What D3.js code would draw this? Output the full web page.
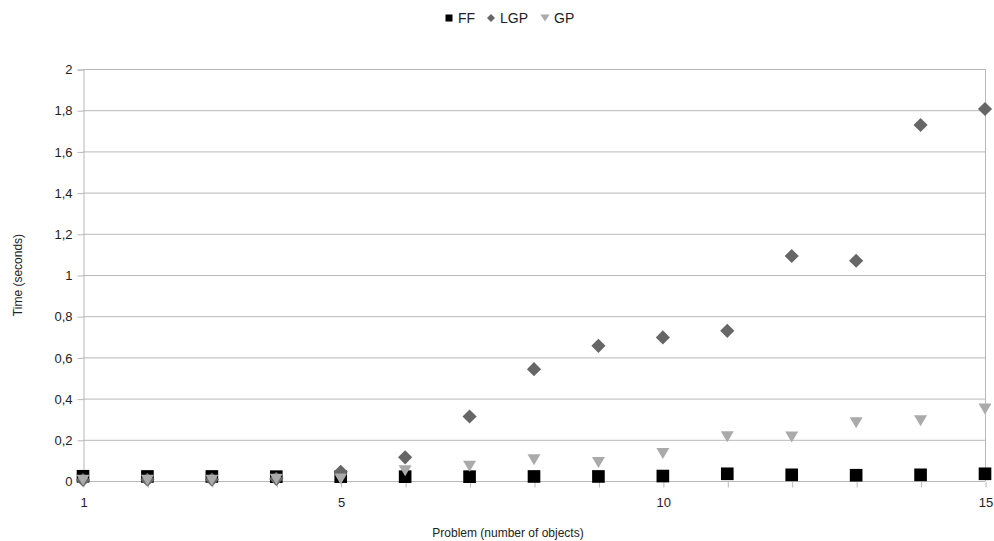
<!DOCTYPE html>
<html><head><meta charset="utf-8">
<script src="https://cdn.jsdelivr.net/npm/d3@7/dist/d3.min.js"></script>
<style>body{margin:0;background:#fff;} text{font-family:"Liberation Sans",Arial,sans-serif;fill:#222;}</style>
</head><body>
<svg id="c" width="994" height="541"></svg>
<script>
const problems = [1,2,3,4,5,6,7,8,9,10,11,12,13,14,15];
const ffValues  = [0.023,0.022,0.022,0.021,0.021,0.021,0.021,0.022,0.022,0.024,0.035,0.030,0.028,0.030,0.035];
const lgpValues = [0.005,0.006,0.007,0.010,0.045,0.115,0.313,0.543,0.656,0.697,0.729,1.092,1.069,1.728,1.806];
const gpValues  = [0.004,0.004,0.004,0.008,0.010,0.050,0.072,0.103,0.090,0.134,0.215,0.213,0.283,0.293,0.350];
const yTicks = [0,0.2,0.4,0.6,0.8,1,1.2,1.4,1.6,1.8,2];
const xLabelTicks = [1,5,10,15];
const seriesNames = ["FF","LGP","GP"];
const seriesColors = ["#000000","#666666","#aaaaaa"];

const svg = d3.select("#c");
const x = d3.scaleLinear().domain([1,15]).range([83,985]);
const y = d3.scaleLinear().domain([0,2]).range([481,69]);
const fmt = v => String(v).replace(".", ",");

// gridlines
svg.append("g").selectAll("line").data(yTicks).join("line")
  .attr("x1",x(1)).attr("x2",x(15)).attr("y1",d=>y(d)+0.5).attr("y2",d=>y(d)+0.5)
  .attr("stroke","#b8b8b8").attr("stroke-width",1);
// right border
svg.append("line").attr("x1",x(15)+0.5).attr("x2",x(15)+0.5).attr("y1",y(2)).attr("y2",y(0))
  .attr("stroke","#b8b8b8");

// y axis
const yAxis = svg.append("g").attr("transform",`translate(${x(1)+0.5},0.5)`)
  .call(d3.axisLeft(y).tickValues(yTicks).tickFormat(fmt).tickSize(6).tickPadding(5));
yAxis.select(".domain").attr("stroke","#b8b8b8");
yAxis.selectAll(".tick line").attr("stroke","#b8b8b8");
yAxis.selectAll("text").attr("font-size",13).style("fill","#222").attr("font-family","Liberation Sans, Arial, sans-serif");

// x axis tick marks at each integer
const xAxis = svg.append("g").attr("transform",`translate(0.5,${y(0)+0.5})`)
  .call(d3.axisBottom(x).tickValues(problems).tickFormat(d => xLabelTicks.includes(d) ? d : "").tickSize(6).tickPadding(10));
xAxis.select(".domain").remove();
xAxis.selectAll(".tick line").attr("stroke","#b8b8b8");
xAxis.selectAll("text").attr("font-size",13).style("fill","#222").attr("font-family","Liberation Sans, Arial, sans-serif");

// axis titles
svg.append("text").attr("x",508).attr("y",537).attr("text-anchor","middle").attr("font-size",12).text("Problem (number of objects)");
svg.append("text").attr("transform","translate(22,275) rotate(-90)").attr("text-anchor","middle").attr("font-size",12).text("Time (seconds)");

// markers
const sq = d3.symbol().type(d3.symbolSquare).size(160);
const tri = "M-6.5,-5.5L6.5,-5.5L0,5.5Z";

svg.append("g").selectAll("path").data(problems).join("path")
  .attr("d", sq).attr("transform",(d,i)=>`translate(${x(d)},${y(ffValues[i])})`).attr("fill",seriesColors[0]);
svg.append("g").selectAll("path").data(problems).join("path")
  .attr("d", d3.symbol().type(d3.symbolSquare).size(100)).attr("transform",(d,i)=>`translate(${x(d)},${y(lgpValues[i])}) rotate(45)`).attr("fill",seriesColors[1]);
svg.append("g").selectAll("path").data(problems).join("path")
  .attr("d", tri).attr("transform",(d,i)=>`translate(${x(d)},${y(gpValues[i])})`).attr("fill",seriesColors[2]);

// legend
const leg = svg.append("g");
const legItems = [
  {name:seriesNames[0], mx:449, tx:458, shape:"sq"},
  {name:seriesNames[1], mx:491, tx:500, shape:"dia"},
  {name:seriesNames[2], mx:545, tx:554, shape:"tri"}
];
legItems.forEach((it,i)=>{
  let p;
  if(it.shape==="sq") p = leg.append("rect").attr("x",it.mx-3.5).attr("y",14.5).attr("width",7).attr("height",7);
  else if(it.shape==="dia") p = leg.append("path").attr("d","M0,-4L4,0L0,4L-4,0Z").attr("transform",`translate(${it.mx},18)`);
  else p = leg.append("path").attr("d","M-4.5,-3.5L4.5,-3.5L0,3.5Z").attr("transform",`translate(${it.mx},18)`);
  p.attr("fill",seriesColors[i]);
  leg.append("text").attr("x",it.tx).attr("y",23).attr("font-size",14).text(it.name);
});
</script>
</body></html>
